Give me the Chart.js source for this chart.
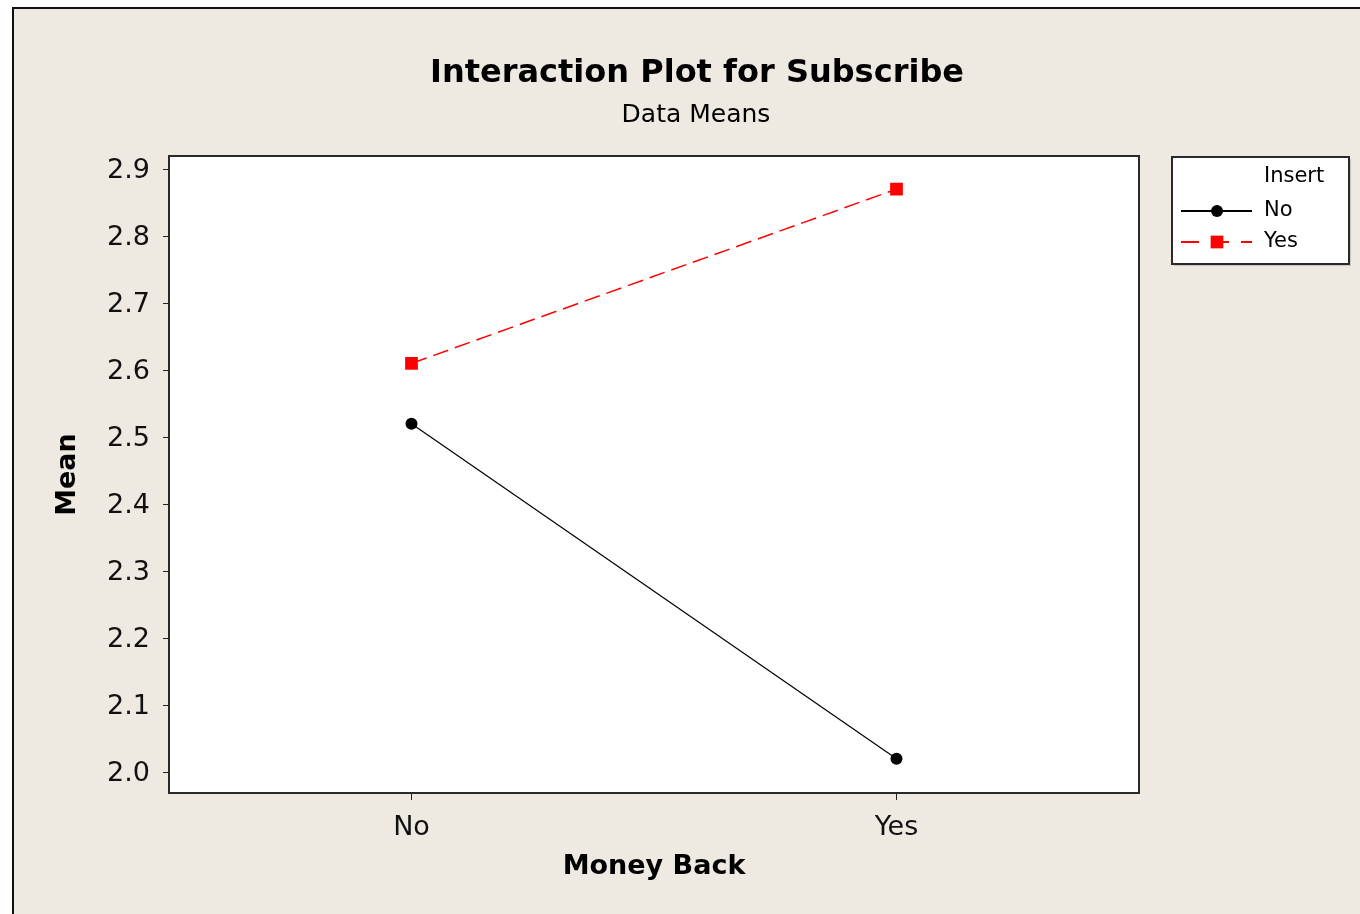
<!DOCTYPE html>
<html>
<head>
<meta charset="utf-8">
<script src="https://cdn.jsdelivr.net/npm/chart.js@4.4.1/dist/chart.umd.min.js"></script>
<style>
html, body { margin: 0; padding: 0; background: #fff; }
canvas { display: block; }
</style>
</head>
<body>
<canvas id="plot" width="1360" height="914"></canvas>
<script>
// data
let moneyBack = ["No", "Yes"]
let insertNo = [2.52, 2.02]
let insertYes = [2.61, 2.87]
let insertLevels = ["No", "Yes"]
let meanTicks = [2.0, 2.1, 2.2, 2.3, 2.4, 2.5, 2.6, 2.7, 2.8, 2.9]

let titleText = "Interaction Plot for Subscribe"
let subtitleText = "Data Means"
let legendTitle = "Insert"

let font = "'DejaVu Sans', Verdana, sans-serif"
let beige = "#eeeae1"

// background panel, white plot area
let backdrop = {
    id: "backdrop",
    beforeDraw(chart) {
        let ctx = chart.ctx
        let area = chart.chartArea
        ctx.save()
        ctx.fillStyle = "#fff"
        ctx.fillRect(0, 0, chart.width, chart.height)
        ctx.fillStyle = beige
        ctx.fillRect(12, 7, chart.width - 12, chart.height - 7)
        ctx.strokeStyle = "#111"
        ctx.lineWidth = 2
        ctx.beginPath()
        ctx.moveTo(13, chart.height)
        ctx.lineTo(13, 8)
        ctx.lineTo(chart.width, 8)
        ctx.stroke()
        ctx.fillStyle = "#fff"
        ctx.fillRect(area.left, area.top, area.width, area.height)
        ctx.restore()
    },
    afterDraw(chart) {
        let ctx = chart.ctx
        let area = chart.chartArea
        ctx.save()
        ctx.strokeStyle = "#2a2a2a"
        ctx.lineWidth = 2
        ctx.strokeRect(area.left, area.top, area.width, area.height)

        // titles
        ctx.fillStyle = "#000"
        ctx.textAlign = "center"
        ctx.textBaseline = "middle"
        ctx.font = "bold 32px " + font
        ctx.fillText(titleText, 697, 74)
        ctx.font = "25px " + font
        ctx.fillText(subtitleText, 696, 115)
        ctx.restore()
    }
}

// legend box on the right, line + marker for each series
let insertLegend = {
    id: "insertLegend",
    afterDraw(chart) {
        let ctx = chart.ctx
        let box = {x: 1172, y: 157, w: 177, h: 107}
        ctx.save()
        ctx.fillStyle = "#c9c6bf"
        ctx.fillRect(box.x + 2, box.y + 2, box.w, box.h)
        ctx.fillStyle = "#fff"
        ctx.fillRect(box.x, box.y, box.w, box.h)
        ctx.strokeStyle = "#2a2a2a"
        ctx.lineWidth = 2
        ctx.strokeRect(box.x, box.y, box.w, box.h)

        ctx.fillStyle = "#000"
        ctx.font = "21px " + font
        ctx.textBaseline = "middle"
        ctx.textAlign = "left"
        ctx.fillText(legendTitle, 1264, 177)

        chart.data.datasets.forEach(function(ds, i) {
            let y = 211 + i * 31
            ctx.save()
            ctx.strokeStyle = ds.borderColor
            ctx.lineWidth = 2
            ctx.setLineDash(ds.borderDash ? [18, 12, 18, 12, 18, 13, 11] : [])
            ctx.beginPath()
            ctx.moveTo(1181, y)
            ctx.lineTo(1252, y)
            ctx.stroke()
            ctx.restore()
            ctx.fillStyle = ds.pointBackgroundColor
            ctx.strokeStyle = ds.pointBackgroundColor
            Chart.helpers.drawPoint(ctx, {
                pointStyle: ds.pointStyle,
                radius: ds.pointRadius,
                rotation: 0,
                borderWidth: 0
            }, 1217, y)
            ctx.fillStyle = "#000"
            ctx.fillText(ds.label, 1264, y)
        })
        ctx.restore()
    }
}

let chart = new Chart(
    document.querySelector("#plot"),
    {
        type: "line",
        data: {
            labels: moneyBack,
            datasets: [
                {
                    label: insertLevels[0],
                    data: insertNo,
                    borderColor: "#000",
                    borderWidth: 1.2,
                    pointStyle: "circle",
                    pointRadius: 6,
                    pointBackgroundColor: "#000",
                    pointBorderWidth: 0
                },
                {
                    label: insertLevels[1],
                    data: insertYes,
                    borderColor: "#ff0000",
                    borderWidth: 1.5,
                    borderDash: [16, 7],
                    pointStyle: "rect",
                    pointRadius: 9,
                    pointBackgroundColor: "#ff0000",
                    pointBorderWidth: 0
                }
            ]
        },
        options: {
            responsive: false,
            animation: false,
            devicePixelRatio: 1,
            layout: {
                padding: {top: 156, left: 50, right: 221, bottom: 31}
            },
            plugins: {
                legend: {display: false},
                tooltip: {enabled: false}
            },
            scales: {
                x: {
                    type: "category",
                    offset: true,
                    grid: {drawOnChartArea: false, drawTicks: true, tickLength: 7, color: "#222", offset: false},
                    border: {display: true, color: "#2a2a2a", width: 2},
                    ticks: {
                        color: "#111",
                        font: {family: font, size: 27},
                        padding: 12,
                        maxRotation: 0
                    },
                    title: {
                        display: true,
                        text: "Money Back",
                        color: "#000",
                        font: {family: font, size: 27, weight: "bold"},
                        padding: {top: 0, bottom: 0}
                    },
                    afterFit(scale) {
                        scale.height = 90
                    }
                },
                y: {
                    min: 1.969,
                    max: 2.9194,
                    grid: {drawOnChartArea: false, drawTicks: true, tickLength: 6, color: "#222"},
                    border: {display: true, color: "#2a2a2a", width: 2},
                    ticks: {
                        color: "#111",
                        font: {family: font, size: 27},
                        padding: 13,
                        labelOffset: 2,
                        callback: function(value) {
                            return value.toFixed(1)
                        }
                    },
                    afterBuildTicks(scale) {
                        scale.ticks = meanTicks.map(function(v) {
                            return {value: v}
                        })
                    },
                    title: {
                        display: true,
                        text: "Mean",
                        color: "#000",
                        font: {family: font, size: 27, weight: "bold"},
                        padding: {top: 2, bottom: 0}
                    },
                    afterFit(scale) {
                        scale.width = 119
                    }
                }
            }
        },
        plugins: [backdrop, insertLegend]
    }
)
</script>
</body>
</html>
